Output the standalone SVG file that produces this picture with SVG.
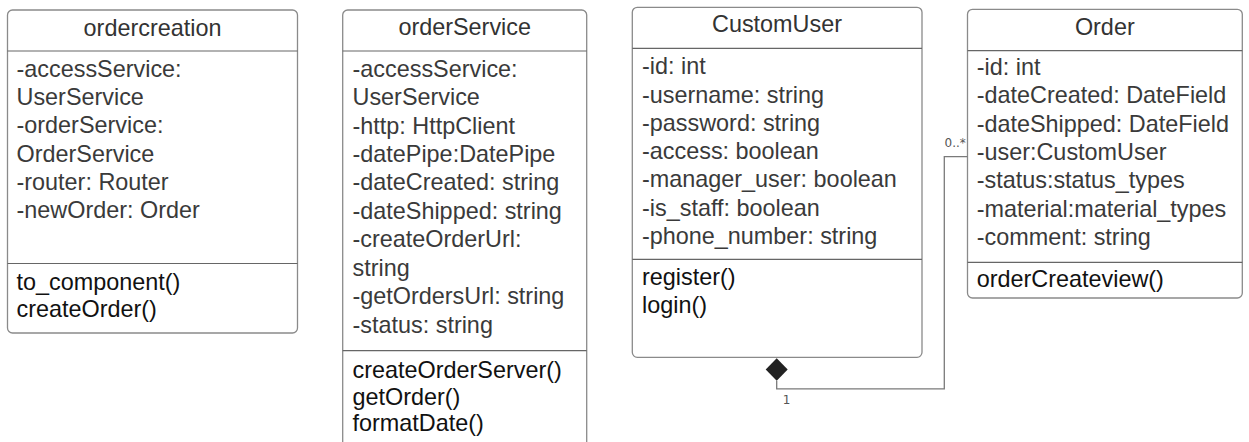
<svg xmlns="http://www.w3.org/2000/svg" width="1249" height="442" viewBox="0 0 1249 442">
  <style>
    .box { fill: #ffffff; stroke: #8a8a8a; stroke-width: 1.3; }
    .div { stroke: #666666; stroke-width: 1.2; }
    text { font-family: "Liberation Sans", Arial, sans-serif; font-size: 23.4px; }
    .title { fill: #333333; text-anchor: middle; }
    .attr { fill: #3a3a3a; }
    .meth { fill: #111111; }
    .mult { font-family: "DejaVu Sans", sans-serif; font-size: 12px; fill: #555555; }
    .link { fill: none; stroke: #7a7a7a; stroke-width: 1.3; }
  </style>

  <rect width="1249" height="442" fill="#ffffff"/>

  <!-- ordercreation class -->
  <g id="ordercreation">
    <rect class="box" x="7.5" y="10" width="290" height="323" rx="5"/>
    <line class="div" x1="7.5" y1="51" x2="297.5" y2="51"/>
    <line class="div" x1="7.5" y1="263.5" x2="297.5" y2="263.5"/>
    <text class="title" x="152.5" y="36">ordercreation</text>
    <text class="attr" x="16.5" y="76.7">-accessService:</text>
    <text class="attr" x="16.5" y="105">UserService</text>
    <text class="attr" x="16.5" y="133.3">-orderService:</text>
    <text class="attr" x="16.5" y="161.7">OrderService</text>
    <text class="attr" x="16.5" y="190">-router: Router</text>
    <text class="attr" x="16.5" y="218.3">-newOrder: Order</text>
    <text class="meth" x="16.5" y="289.5">to_component()</text>
    <text class="meth" x="16.5" y="317">createOrder()</text>
  </g>

  <!-- orderService class (runs past the lower edge) -->
  <g id="orderService">
    <rect class="box" x="342.7" y="10" width="244" height="460" rx="5"/>
    <line class="div" x1="342.7" y1="51" x2="586.7" y2="51"/>
    <line class="div" x1="342.7" y1="350.7" x2="586.7" y2="350.7"/>
    <text class="title" x="464.7" y="35">orderService</text>
    <text class="attr" x="352.5" y="77">-accessService:</text>
    <text class="attr" x="352.5" y="105.3">UserService</text>
    <text class="attr" x="352.5" y="133.6">-http: HttpClient</text>
    <text class="attr" x="352.5" y="162">-datePipe:DatePipe</text>
    <text class="attr" x="352.5" y="190.3">-dateCreated: string</text>
    <text class="attr" x="352.5" y="218.6">-dateShipped: string</text>
    <text class="attr" x="352.5" y="247">-createOrderUrl:</text>
    <text class="attr" x="352.5" y="275.5">string</text>
    <text class="attr" x="352.5" y="304">-getOrdersUrl: string</text>
    <text class="attr" x="352.5" y="333">-status: string</text>
    <text class="meth" x="352.5" y="378">createOrderServer()</text>
    <text class="meth" x="352.5" y="404.5">getOrder()</text>
    <text class="meth" x="352.5" y="431">formatDate()</text>
  </g>

  <!-- CustomUser class -->
  <g id="CustomUser">
    <rect class="box" x="632.3" y="7.3" width="289.7" height="350" rx="5"/>
    <line class="div" x1="632.3" y1="48.3" x2="922" y2="48.3"/>
    <line class="div" x1="632.3" y1="259.3" x2="922" y2="259.3"/>
    <text class="title" x="777" y="32.3">CustomUser</text>
    <text class="attr" x="642" y="74">-id: int</text>
    <text class="attr" x="642" y="102.5">-username: string</text>
    <text class="attr" x="642" y="130.8">-password: string</text>
    <text class="attr" x="642" y="159">-access: boolean</text>
    <text class="attr" x="642" y="187.3">-manager_user: boolean</text>
    <text class="attr" x="642" y="215.6">-is_staff: boolean</text>
    <text class="attr" x="642" y="244">-phone_number: string</text>
    <text class="meth" x="642" y="285">register()</text>
    <text class="meth" x="642" y="313.3">login()</text>
  </g>

  <!-- Order class -->
  <g id="Order">
    <rect class="box" x="967.5" y="9.3" width="274.8" height="288.7" rx="5"/>
    <line class="div" x1="967.5" y1="50.7" x2="1242.3" y2="50.7"/>
    <line class="div" x1="967.5" y1="262.3" x2="1242.3" y2="262.3"/>
    <text class="title" x="1104.8" y="35">Order</text>
    <text class="attr" x="976.7" y="75">-id: int</text>
    <text class="attr" x="976.7" y="103.3">-dateCreated: DateField</text>
    <text class="attr" x="976.7" y="131.7">-dateShipped: DateField</text>
    <text class="attr" x="976.7" y="160">-user:CustomUser</text>
    <text class="attr" x="976.7" y="188.3">-status:status_types</text>
    <text class="attr" x="976.7" y="216.7">-material:material_types</text>
    <text class="attr" x="976.7" y="245">-comment: string</text>
    <text class="meth" x="976.7" y="287">orderCreateview()</text>
  </g>

  <!-- composition: CustomUser 1 <>—— 0..* Order -->
  <g id="connectors">
    <polyline class="link" points="776.7,380.7 776.7,388.8 944.3,388.8 944.3,156.7 967.5,156.7"/>
    <polygon points="776.7,358.3 787.7,369.5 776.7,380.7 765.7,369.5" fill="#222222"/>
    <text class="mult" x="782.8" y="403.5">1</text>
    <text class="mult" x="944.5" y="147">0..*</text>
  </g>
</svg>
